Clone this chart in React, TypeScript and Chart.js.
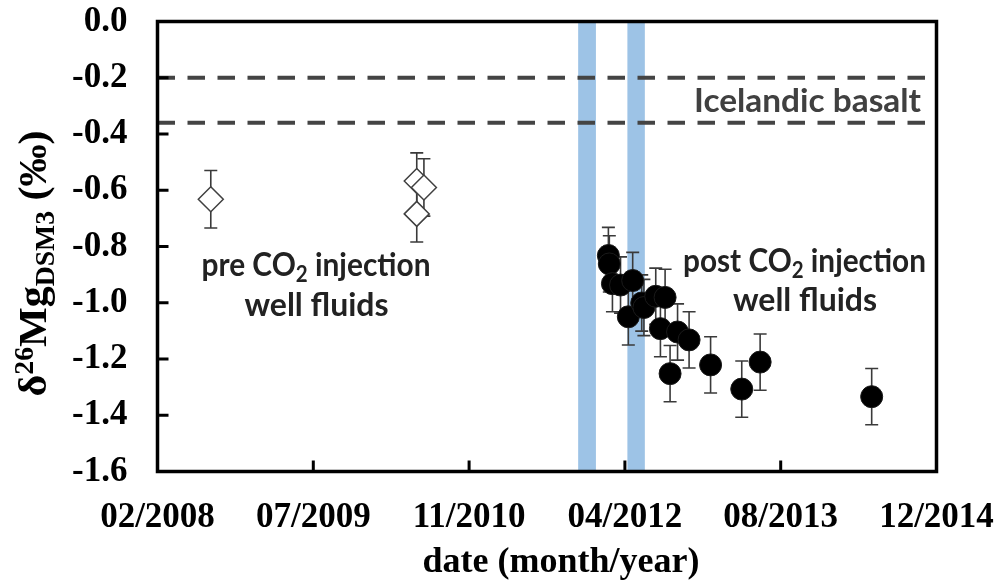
import React, { useEffect, useRef } from 'react';
import { Chart, registerables } from 'chart.js';

Chart.register(...registerables);

// ---------- data ----------
const START_DATE = '2008-02-24';
const X_STEP_DAYS = 500;
const X_SPAN_DAYS = 2500;
const Y_MIN = -1.6;
const Y_MAX = 0;
const Y_STEP = 0.2;

const preDates = ['2008-08-13', '2010-06-05', '2010-06-28', '2010-06-05'];
const preValues = [-0.632, -0.567, -0.59, -0.684];
const preErrors = [0.102, 0.1, 0.102, 0.1];

const postDates = [
  '2012-02-10', '2012-02-13', '2012-02-23', '2012-03-20', '2012-04-14',
  '2012-04-28', '2012-05-27', '2012-06-03', '2012-07-11', '2012-07-26',
  '2012-08-10', '2012-08-26', '2012-09-19', '2012-10-26', '2013-01-03',
  '2013-04-13', '2013-06-11', '2014-06-04',
];
const postValues = [
  -0.832, -0.862, -0.932, -0.937, -1.05,
  -0.921, -1.001, -1.017, -0.977, -1.092,
  -0.981, -1.252, -1.104, -1.132, -1.221,
  -1.307, -1.211, -1.334,
];
const postErrors = [
  0.1, 0.1, 0.1, 0.1, 0.1,
  0.1, 0.1, 0.1, 0.1, 0.1,
  0.1, 0.1, 0.1, 0.1, 0.1,
  0.1, 0.1, 0.1,
];

const basaltBounds = [-0.2, -0.36];
const injectionStarts = ['2011-11-05', '2012-04-11'];
const injectionEnds = ['2012-01-01', '2012-06-06'];

const xTitle = 'date (month/year)';
const basaltLabel = 'Icelandic basalt';
const preLabel1 = ['pre CO', '2', ' injection'];
const postLabel1 = ['post CO', '2', ' injection'];
const fluidsLabel = 'well fluids';

// ---------- helpers ----------
const DAY_MS = 86400000;
const startMs = Date.parse(START_DATE + 'T00:00:00Z');
const dayOffset = (s: string) => (Date.parse(s + 'T00:00:00Z') - startMs) / DAY_MS;
const fmtTick = (v: number) => {
  const d = new Date(startMs + Math.round(v) * DAY_MS);
  const m = String(d.getUTCMonth() + 1).padStart(2, '0');
  return `${m}/${d.getUTCFullYear()}`;
};

const SERIF = "'Liberation Serif', 'Times New Roman', serif";
const SANS = "Lato, 'Open Sans', sans-serif";
const TICK_SIZE = 35;
const ANN_SIZE = 32;
const ANN_SUB = 22;

function drawParts(
  ctx: CanvasRenderingContext2D,
  parts: string[],
  cx: number,
  baseline: number,
  color: string,
  targetWidth?: number,
) {
  const fonts = parts.map((_, i) => (i % 2 === 1 ? `bold ${ANN_SUB}px ${SANS}` : `bold ${ANN_SIZE}px ${SANS}`));
  const widths = parts.map((t, i) => {
    ctx.font = fonts[i];
    return ctx.measureText(t).width;
  });
  const total = widths.reduce((a, b) => a + b, 0);
  const k = targetWidth ? targetWidth / total : 1;
  ctx.save();
  ctx.translate(cx, baseline);
  ctx.scale(k, 1);
  let x = -total / 2;
  ctx.fillStyle = color;
  ctx.textAlign = 'left';
  ctx.textBaseline = 'alphabetic';
  parts.forEach((t, i) => {
    ctx.font = fonts[i];
    ctx.fillText(t, x, i % 2 === 1 ? 6 : 0);
    x += widths[i];
  });
  ctx.restore();
}

const decorPlugin = {
  id: 'decor',
  beforeDatasetsDraw(chart: any) {
    const { ctx, chartArea, scales } = chart;
    const xs = scales.x;
    const ys = scales.y;
    ctx.save();
    // injection bands
    ctx.fillStyle = '#9DC3E6';
    injectionStarts.forEach((s, i) => {
      const x0 = xs.getPixelForValue(dayOffset(s));
      const x1 = xs.getPixelForValue(dayOffset(injectionEnds[i]));
      ctx.fillRect(x0, chartArea.top, x1 - x0, chartArea.bottom - chartArea.top);
    });
    // error bars
    ctx.strokeStyle = '#3a3a3a';
    ctx.lineWidth = 1.6;
    const cap = 6.5;
    const drawErr = (dates: string[], vals: number[], errs: number[]) => {
      dates.forEach((d, i) => {
        const px = xs.getPixelForValue(dayOffset(d));
        const pt = ys.getPixelForValue(vals[i] + errs[i]);
        const pb = ys.getPixelForValue(vals[i] - errs[i]);
        ctx.beginPath();
        ctx.moveTo(px, pt);
        ctx.lineTo(px, pb);
        ctx.moveTo(px - cap, pt);
        ctx.lineTo(px + cap, pt);
        ctx.moveTo(px - cap, pb);
        ctx.lineTo(px + cap, pb);
        ctx.stroke();
      });
    };
    drawErr(preDates, preValues, preErrors);
    drawErr(postDates, postValues, postErrors);
    ctx.restore();
  },
  afterDatasetsDraw(chart: any) {
    const { ctx, chartArea, scales } = chart;
    const xs = scales.x;
    const ys = scales.y;
    ctx.save();
    ctx.strokeStyle = '#000';
    ctx.lineWidth = 3.5;
    ctx.strokeRect(chartArea.left, chartArea.top, chartArea.right - chartArea.left, chartArea.bottom - chartArea.top);
    ctx.lineWidth = 3;
    ctx.beginPath();
    ys.ticks.forEach((t: any) => {
      const py = ys.getPixelForValue(t.value);
      ctx.moveTo(chartArea.left, py);
      ctx.lineTo(chartArea.left + 11, py);
    });
    xs.ticks.forEach((t: any) => {
      const px = xs.getPixelForValue(t.value);
      ctx.moveTo(px, chartArea.bottom);
      ctx.lineTo(px, chartArea.bottom - 11);
    });
    ctx.stroke();
    ctx.restore();
  },
  afterDraw(chart: any) {
    const { ctx } = chart;
    ctx.save();
    // y-axis title with super/subscripts (condensed along the text direction)
    ctx.translate(46, 263.5);
    ctx.rotate(-Math.PI / 2);
    const segs = [
      { t: 'δ', size: 41, dy: 0 },
      { t: '26', size: 27, dy: -13 },
      { t: 'Mg', size: 41, dy: 0 },
      { t: 'DSM3', size: 27, dy: 8 },
      { t: ' (‰)', size: 41, dy: 0 },
    ];
    const ws = segs.map((s) => {
      ctx.font = `bold ${s.size}px ${SERIF}`;
      return ctx.measureText(s.t).width;
    });
    const tot = ws.reduce((a, b) => a + b, 0);
    const targetLen = 266;
    ctx.scale(targetLen / tot, 1);
    let x = -tot / 2;
    ctx.fillStyle = '#000';
    ctx.textAlign = 'left';
    ctx.textBaseline = 'alphabetic';
    segs.forEach((s, i) => {
      ctx.font = `bold ${s.size}px ${SERIF}`;
      ctx.fillText(s.t, x, s.dy);
      x += ws[i];
    });
    ctx.restore();

    ctx.save();
    // x-axis title
    ctx.font = `bold 36px ${SERIF}`;
    ctx.fillStyle = '#000';
    ctx.textAlign = 'center';
    ctx.textBaseline = 'middle';
    ctx.fillText(xTitle, 561, 563);
    ctx.restore();

    // annotations
    drawParts(ctx, [basaltLabel], 921 - 227 / 2, 112, '#404040', 227);
    drawParts(ctx, preLabel1, 316, 276, '#222', 229);
    drawParts(ctx, [fluidsLabel], 316.5, 316, '#222');
    drawParts(ctx, postLabel1, 804.5, 272, '#222', 243);
    drawParts(ctx, [fluidsLabel], 805, 311, '#222');
  },
};

const zeroPad = (s: any) => {
  s.paddingTop = 0;
  s.paddingBottom = 0;
  s.paddingLeft = 0;
  s.paddingRight = 0;
};

export default function App() {
  const ref = useRef<HTMLCanvasElement>(null);
  useEffect(() => {
    const canvas = ref.current;
    if (!canvas) return;
    const chart = new Chart(canvas, {
      type: 'scatter',
      data: {
        datasets: [
          {
            label: 'pre',
            data: preDates.map((d, i) => ({ x: dayOffset(d), y: preValues[i] })),
            pointStyle: 'rectRot',
            pointRadius: 12.5,
            pointBackgroundColor: '#ffffff',
            pointBorderColor: '#404040',
            pointBorderWidth: 1.5,
            order: 0,
          },
          {
            label: 'post',
            data: postDates.map((d, i) => ({ x: dayOffset(d), y: postValues[i] })),
            pointStyle: 'circle',
            pointRadius: 11,
            pointBackgroundColor: '#000000',
            pointBorderColor: '#1a1a1a',
            pointBorderWidth: 1,
            order: 0,
          },
          ...basaltBounds.map((b) => ({
            type: 'line' as const,
            label: 'basalt ' + b,
            data: [
              { x: 0, y: b },
              { x: X_SPAN_DAYS, y: b },
            ],
            borderColor: '#444444',
            borderWidth: 3.8,
            borderDash: [17.5, 12.5],
            pointRadius: 0,
            showLine: true,
            fill: false,
            order: 1,
          })),
        ] as any,
      },
      options: {
        responsive: false,
        animation: false,
        layout: { padding: { left: 0, right: 64.5, top: 21.5, bottom: 0 } },
        plugins: { legend: { display: false }, tooltip: { enabled: false } },
        scales: {
          x: {
            type: 'linear',
            min: 0,
            max: X_SPAN_DAYS,
            grid: { display: false, drawTicks: false },
            border: { display: false },
            ticks: {
              stepSize: X_STEP_DAYS,
              autoSkip: false,
              maxRotation: 0,
              padding: 25.5,
              color: '#000',
              font: { family: SERIF, size: TICK_SIZE, weight: 'bold' },
              callback: (v: any) => fmtTick(Number(v)),
            },
            title: { display: false },
            afterFit: (s: any) => {
              s.height = 116.5;
              zeroPad(s);
            },
          },
          y: {
            type: 'linear',
            min: Y_MIN,
            max: Y_MAX,
            grid: { display: false, drawTicks: false },
            border: { display: false },
            ticks: {
              stepSize: Y_STEP,
              padding: 30,
              color: '#000',
              font: { family: SERIF, size: TICK_SIZE, weight: 'bold' },
              callback: (v: any) => Number(v).toFixed(1),
            },
            afterFit: (s: any) => {
              s.width = 157.5;
              zeroPad(s);
            },
          },
        },
      } as any,
      plugins: [decorPlugin],
    });
    return () => chart.destroy();
  }, []);
  return (
    <div style={{ position: 'fixed', left: 0, top: 0, width: 1001, height: 588, background: '#fff' }}>
      <canvas ref={ref} width={1001} height={588} style={{ display: 'block', width: 1001, height: 588 }} />
    </div>
  );
}
